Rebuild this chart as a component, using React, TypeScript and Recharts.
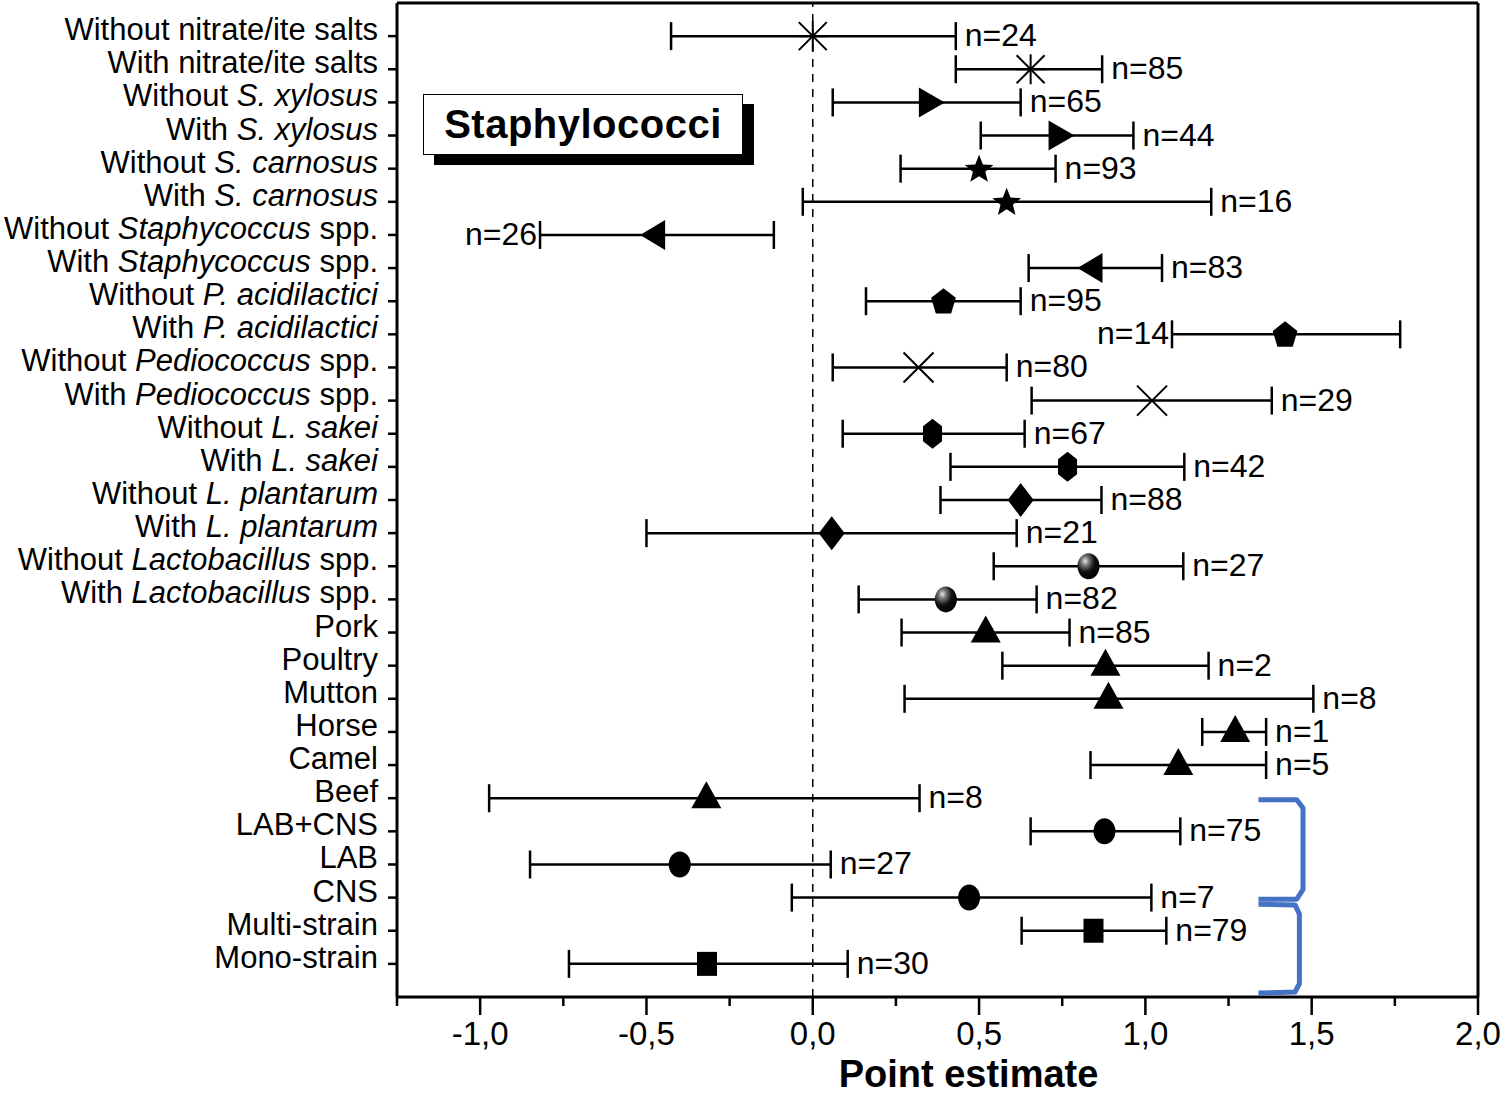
import React from 'react';
import { ScatterChart, Scatter, XAxis, YAxis, ErrorBar, ReferenceLine } from 'recharts';

// row labels, *...* marks the italic part
const categories = [
  'Without nitrate/ite salts',
  'With nitrate/ite salts',
  'Without *S. xylosus*',
  'With *S. xylosus*',
  'Without *S. carnosus*',
  'With *S. carnosus*',
  'Without *Staphycoccus* spp.',
  'With *Staphycoccus* spp.',
  'Without *P. acidilactici*',
  'With *P. acidilactici*',
  'Without *Pediococcus* spp.',
  'With *Pediococcus* spp.',
  'Without *L. sakei*',
  'With *L. sakei*',
  'Without *L. plantarum*',
  'With *L. plantarum*',
  'Without *Lactobacillus* spp.',
  'With *Lactobacillus* spp.',
  'Pork',
  'Poultry',
  'Mutton',
  'Horse',
  'Camel',
  'Beef',
  'LAB+CNS',
  'LAB',
  'CNS',
  'Multi-strain',
  'Mono-strain',
];

const estimates = [0.0, 0.655, 0.355, 0.745, 0.5, 0.583, -0.48, 0.835, 0.393, 1.42, 0.318, 1.02, 0.36, 0.766, 0.625, 0.057, 0.829, 0.4, 0.52, 0.88, 0.889, 1.27, 1.099, -0.32, 0.877, -0.4, 0.47, 0.844, -0.318];
const lower = [-0.426, 0.43, 0.06, 0.505, 0.264, -0.03, -0.82, 0.649, 0.16, 1.08, 0.06, 0.658, 0.09, 0.414, 0.384, -0.5, 0.544, 0.138, 0.267, 0.57, 0.276, 1.171, 0.835, -0.973, 0.655, -0.85, -0.063, 0.628, -0.733];
const upper = [0.43, 0.87, 0.625, 0.964, 0.73, 1.198, -0.117, 1.05, 0.625, 1.766, 0.583, 1.38, 0.637, 1.117, 0.868, 0.613, 1.114, 0.673, 0.772, 1.19, 1.505, 1.363, 1.363, 0.321, 1.105, 0.054, 1.018, 1.063, 0.105];
const sampleSizes = [24, 85, 65, 44, 93, 16, 26, 83, 95, 14, 80, 29, 67, 42, 88, 21, 27, 82, 85, 2, 8, 1, 5, 8, 75, 27, 7, 79, 30];
const markers = [
  'asterisk', 'asterisk', 'triRight', 'triRight', 'star', 'star', 'triLeft', 'triLeft',
  'pentagon', 'pentagon', 'cross', 'cross', 'hexagon', 'hexagon', 'diamond', 'diamond',
  'sphere', 'sphere', 'triUp', 'triUp', 'triUp', 'triUp', 'triUp', 'triUp',
  'circle', 'circle', 'circle', 'square', 'square',
];
// n= label goes left of the interval on these rows
const labelLeftRows = [7, 10];

const xTicks = [-1.25, -1.0, -0.75, -0.5, -0.25, 0, 0.25, 0.5, 0.75, 1.0, 1.25, 1.5, 1.75, 2.0];

// blue brackets (data units)
const bracketTop = [
  { x: 1.34, y: 24.05 }, { x: 1.455, y: 24.05 }, { x: 1.474, y: 24.3 },
  { x: 1.474, y: 26.75 }, { x: 1.455, y: 27.05 }, { x: 1.34, y: 27.05 },
];
const bracketBottom = [
  { x: 1.34, y: 27.2 }, { x: 1.45, y: 27.22 }, { x: 1.463, y: 27.5 },
  { x: 1.463, y: 29.6 }, { x: 1.45, y: 29.85 }, { x: 1.34, y: 29.88 },
];

const FONT = '"Liberation Sans", Arial, sans-serif';

const rows = categories.map((c, i) => ({
  x: estimates[i],
  y: i + 1,
  err: [estimates[i] - lower[i], upper[i] - estimates[i]],
  kind: markers[i],
}));

const labelRows = categories.map((c, i) => {
  const left = labelLeftRows.includes(i + 1);
  return { x: left ? lower[i] : upper[i], y: i + 1, n: sampleSizes[i], left };
});

const polygon = (cx: number, cy: number, sides: number, rx: number, ry: number, rot: number) => {
  const pts = [];
  for (let k = 0; k < sides; k++) {
    const a = rot + (k * 2 * Math.PI) / sides;
    pts.push(`${cx + rx * Math.cos(a)},${cy + ry * Math.sin(a)}`);
  }
  return pts.join(' ');
};

const starPoints = (cx: number, cy: number, ro: number, ri: number) => {
  const pts = [];
  for (let k = 0; k < 10; k++) {
    const r = k % 2 === 0 ? ro : ri;
    const a = -Math.PI / 2 + (k * Math.PI) / 5;
    pts.push(`${cx + r * Math.cos(a)},${cy + 1 + r * Math.sin(a)}`);
  }
  return pts.join(' ');
};

const Marker = (props: any) => {
  const { cx, cy, payload, index } = props;
  if (cx == null || cy == null) return <g />;
  const kind = payload.kind;
  const line = { stroke: '#000', strokeWidth: 2 };
  switch (kind) {
    case 'asterisk':
      return (
        <g {...line}>
          <line x1={cx - 14} y1={cy - 14} x2={cx + 14} y2={cy + 14} />
          <line x1={cx - 14} y1={cy + 14} x2={cx + 14} y2={cy - 14} />
          <line x1={cx} y1={cy - 15} x2={cx} y2={cy + 15} />
          <line x1={cx - 15} y1={cy} x2={cx + 15} y2={cy} />
        </g>
      );
    case 'cross':
      return (
        <g {...line}>
          <line x1={cx - 15} y1={cy - 15} x2={cx + 15} y2={cy + 15} />
          <line x1={cx - 15} y1={cy + 15} x2={cx + 15} y2={cy - 15} />
        </g>
      );
    case 'triRight':
      return <polygon points={`${cx - 12},${cy - 15} ${cx + 14},${cy} ${cx - 12},${cy + 15}`} fill="#000" />;
    case 'triLeft':
      return <polygon points={`${cx + 12},${cy - 15} ${cx - 13},${cy} ${cx + 12},${cy + 15}`} fill="#000" />;
    case 'triUp':
      return <polygon points={`${cx},${cy - 17} ${cx + 15},${cy + 10} ${cx - 15},${cy + 10}`} fill="#000" />;
    case 'star':
      return <polygon points={starPoints(cx, cy, 15, 6.5)} fill="#000" />;
    case 'pentagon':
      return <polygon points={polygon(cx, cy + 1, 5, 13, 14, -Math.PI / 2)} fill="#000" />;
    case 'hexagon':
      return <polygon points={polygon(cx, cy, 6, 11, 15, -Math.PI / 2)} fill="#000" />;
    case 'diamond':
      return <polygon points={`${cx},${cy - 17} ${cx + 13},${cy} ${cx},${cy + 17} ${cx - 13},${cy}`} fill="#000" />;
    case 'sphere': {
      const id = `sph${index}`;
      return (
        <g>
          <defs>
            <radialGradient id={id} cx="0.35" cy="0.3" r="0.7">
              <stop offset="0" stopColor="#e8e8e8" />
              <stop offset="0.25" stopColor="#777" />
              <stop offset="0.6" stopColor="#111" />
              <stop offset="1" stopColor="#000" />
            </radialGradient>
          </defs>
          <ellipse cx={cx} cy={cy} rx={11} ry={13} fill={`url(#${id})`} />
        </g>
      );
    }
    case 'circle':
      return <ellipse cx={cx} cy={cy} rx={11} ry={13} fill="#000" />;
    case 'square':
      return <rect x={cx - 10} y={cy - 12} width={20} height={24} fill="#000" />;
    default:
      return <g />;
  }
};

const NLabel = (props: any) => {
  const { cx, cy, payload } = props;
  if (cx == null) return <g />;
  return (
    <text
      x={payload.left ? cx - 3 : cx + 9}
      y={cy + 10}
      textAnchor={payload.left ? 'end' : 'start'}
      fontFamily={FONT}
      fontSize={32}
      fill="#000"
    >
      {`n=${payload.n}`}
    </text>
  );
};

const YTick = (props: any) => {
  const { x, y, payload } = props;
  const label = categories[payload.value - 1];
  if (!label) return <g />;
  const parts = label.split('*');
  return (
    <text x={x - 2} y={y + 4} textAnchor="end" fontFamily={FONT} fontSize={31} fill="#000">
      {parts.map((p, i) => (
        <tspan key={i} fontStyle={i % 2 === 1 ? 'italic' : 'normal'}>
          {p}
        </tspan>
      ))}
    </text>
  );
};

const XTick = (props: any) => {
  const { x, y, payload } = props;
  const v = payload.value;
  const major = Math.abs(v * 2 - Math.round(v * 2)) < 1e-6;
  return (
    <g>
      <line x1={x} y1={y} x2={x} y2={y + (major ? 18 : 9)} stroke="#000" strokeWidth={2.5} />
      {major && (
        <text x={x} y={y + 48} textAnchor="middle" fontFamily={FONT} fontSize={33} fill="#000">
          {v.toFixed(1).replace('.', ',')}
        </text>
      )}
    </g>
  );
};

const App = () => {
  return (
    <div style={{ position: 'absolute', left: 0, top: 0, width: 1506, height: 1095, background: '#fff' }}>
      <ScatterChart width={1506} height={1095} margin={{ top: 3, right: 28, bottom: 0, left: 0 }}>
        <XAxis
          type="number"
          dataKey="x"
          domain={[-1.25, 2.0]}
          ticks={xTicks}
          interval={0}
          allowDataOverflow
          height={98}
          tickLine={false}
          tickSize={0}
          tickMargin={0}
          tick={<XTick />}
          axisLine={{ stroke: '#000', strokeWidth: 3 }}
          label={{
            value: 'Point estimate',
            position: 'insideBottom',
            offset: 8,
            dx: 31,
            style: { fontFamily: FONT, fontSize: 38, fontWeight: 'bold', fill: '#000' },
          }}
        />
        <YAxis
          type="number"
          dataKey="y"
          domain={[0, 30]}
          reversed
          ticks={categories.map((c, i) => i + 1)}
          interval={0}
          allowDataOverflow
          width={397}
          tickSize={9}
          tickMargin={8}
          tickLine={{ stroke: '#000', strokeWidth: 2.5 }}
          axisLine={{ stroke: '#000', strokeWidth: 3 }}
          tick={<YTick />}
        />
        <ReferenceLine y={0} stroke="#000" strokeWidth={3} />
        <ReferenceLine x={2} stroke="#000" strokeWidth={3} />
        <ReferenceLine x={0} stroke="#000" strokeWidth={1.5} strokeDasharray="8 7" />
        <Scatter data={rows} shape={<Marker />} isAnimationActive={false}>
          <ErrorBar dataKey="err" direction="x" width={14} stroke="#000" strokeWidth={2.5} />
        </Scatter>
        <Scatter data={labelRows} shape={<NLabel />} isAnimationActive={false} />
        <Scatter
          data={bracketTop}
          line={{ stroke: '#4472C4', strokeWidth: 5, strokeLinejoin: 'round' }}
          lineType="joint"
          shape={() => <g />}
          isAnimationActive={false}
        />
        <Scatter
          data={bracketBottom}
          line={{ stroke: '#4472C4', strokeWidth: 5, strokeLinejoin: 'round' }}
          lineType="joint"
          shape={() => <g />}
          isAnimationActive={false}
        />
      </ScatterChart>
      <div
        style={{
          position: 'absolute',
          left: 423,
          top: 94,
          width: 320,
          height: 61,
          boxSizing: 'border-box',
          border: '1.5px solid #000',
          background: '#fff',
          boxShadow: '11px 10px 0 #000',
          fontFamily: FONT,
          fontWeight: 'bold',
          fontSize: 40,
          lineHeight: '58px',
          textAlign: 'center',
          letterSpacing: 0.5,
        }}
      >
        Staphylococci
      </div>
    </div>
  );
};

export default App;
